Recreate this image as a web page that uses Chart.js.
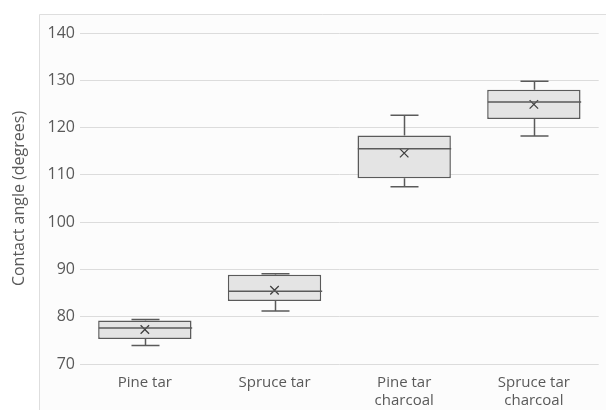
<!DOCTYPE html>
<html>
<head>
<meta charset="utf-8">
<script src="https://cdn.jsdelivr.net/npm/chart.js@4.4.1/dist/chart.umd.min.js"></script>
<style>
  html, body { margin: 0; padding: 0; background: #fff; }
  #wrap { width: 606px; height: 410px; position: relative; }
</style>
</head>
<body>
<div id="wrap"><canvas id="myChart" width="606" height="410"></canvas></div>
<script>
// Box plot values (contact angle, degrees)
const categories = [['Pine tar'], ['Spruce tar'], ['Pine tar', 'charcoal'], ['Spruce tar', 'charcoal']];
const minValues = [73.9, 81.2, 107.5, 118.2];
const q1Values = [75.3, 83.3, 109.3, 121.8];
const medianValues = [77.6, 85.4, 115.5, 125.4];
const meanValues = [77.3, 85.6, 114.6, 124.9];
const q3Values = [79.2, 88.9, 118.3, 128.0];
const maxValues = [79.4, 89.1, 122.6, 129.8];
const yTicks = [70, 80, 90, 100, 110, 120, 130, 140];

const boxColor = '#e4e4e4';
const lineColor = '#5a5a5a';

// light frame behind the plot, like the source figure
const framePlugin = {
    id: 'frame',
    beforeDraw(chart) {
        const ctx = chart.ctx;
        ctx.save();
        ctx.fillStyle = '#fcfcfc';
        ctx.fillRect(39, 14, chart.width - 39, chart.height - 14);
        ctx.strokeStyle = '#dedede';
        ctx.lineWidth = 1;
        ctx.beginPath();
        ctx.moveTo(39.5, chart.height);
        ctx.lineTo(39.5, 14.5);
        ctx.lineTo(chart.width, 14.5);
        ctx.stroke();
        ctx.restore();
    }
};

// whiskers and median lines, placed with the chart's own scales
const boxPlugin = {
    id: 'boxParts',
    afterDatasetsDraw(chart) {
        const ctx = chart.ctx;
        const x = chart.scales.x;
        const y = chart.scales.y;
        const bars = chart.getDatasetMeta(0).data;
        ctx.save();
        ctx.strokeStyle = lineColor;
        ctx.lineWidth = 1.5;
        categories.forEach((c, i) => {
            const cx = Math.round(x.getPixelForValue(i)) + 0.5;
            const half = bars[i].width / 2;
            const cap = bars[i].width * 0.15;
            const yMin = y.getPixelForValue(minValues[i]);
            const yQ1 = y.getPixelForValue(q1Values[i]);
            const yQ3 = y.getPixelForValue(q3Values[i]);
            const yMax = y.getPixelForValue(maxValues[i]);
            const yMed = y.getPixelForValue(medianValues[i]);
            ctx.beginPath();
            ctx.moveTo(cx, yQ1); ctx.lineTo(cx, yMin);
            ctx.moveTo(cx - cap, yMin); ctx.lineTo(cx + cap, yMin);
            ctx.moveTo(cx, yQ3); ctx.lineTo(cx, yMax);
            ctx.moveTo(cx - cap, yMax); ctx.lineTo(cx + cap, yMax);
            ctx.moveTo(cx - half, yMed); ctx.lineTo(cx + half, yMed);
            ctx.stroke();
        });
        ctx.restore();
    }
};

new Chart('myChart', {
    type: 'bar',
    data: {
        labels: categories,
        datasets: [{
            label: 'IQR',
            data: q1Values.map((q1, i) => [q1, q3Values[i]]),
            backgroundColor: boxColor,
            borderColor: lineColor,
            borderWidth: 1.5,
            borderSkipped: false,
            barPercentage: 0.72,
            categoryPercentage: 1,
            order: 2
        }, {
            type: 'line',
            label: 'Mean',
            data: meanValues,
            showLine: false,
            pointStyle: 'crossRot',
            pointRadius: 6,
            pointBorderColor: '#404040',
            pointBorderWidth: 1.3,
            order: 1
        }]
    },
    options: {
        responsive: false,
        animation: false,
        layout: { padding: { top: 33, right: 6, left: 0, bottom: 0 } },
        plugins: {
            legend: { display: false },
            tooltip: { enabled: false }
        },
        scales: {
            x: {
                grid: { display: false, drawTicks: false },
                border: { display: false },
                ticks: {
                    color: '#595959',
                    font: { family: 'Open Sans', size: 15, lineHeight: 1.2 },
                    padding: 10,
                    maxRotation: 0,
                    autoSkip: false
                },
                afterFit(scale) { scale.height = 46; }
            },
            y: {
                min: 70,
                max: 140,
                afterBuildTicks(scale) { scale.ticks = yTicks.map(v => ({ value: v })); },
                grid: { color: '#dcdcdc', drawTicks: false, lineWidth: 1 },
                border: { display: false },
                ticks: {
                    color: '#595959',
                    font: { family: 'Open Sans', size: 16 },
                    padding: 5
                },
                title: {
                    display: true,
                    text: 'Contact angle (degrees)',
                    color: '#595959',
                    font: { family: 'Open Sans', size: 16 },
                    padding: { top: 10, bottom: 0 }
                },
                afterFit(scale) { scale.width = 80; }
            }
        }
    },
    plugins: [framePlugin, boxPlugin]
});
</script>
</body>
</html>
